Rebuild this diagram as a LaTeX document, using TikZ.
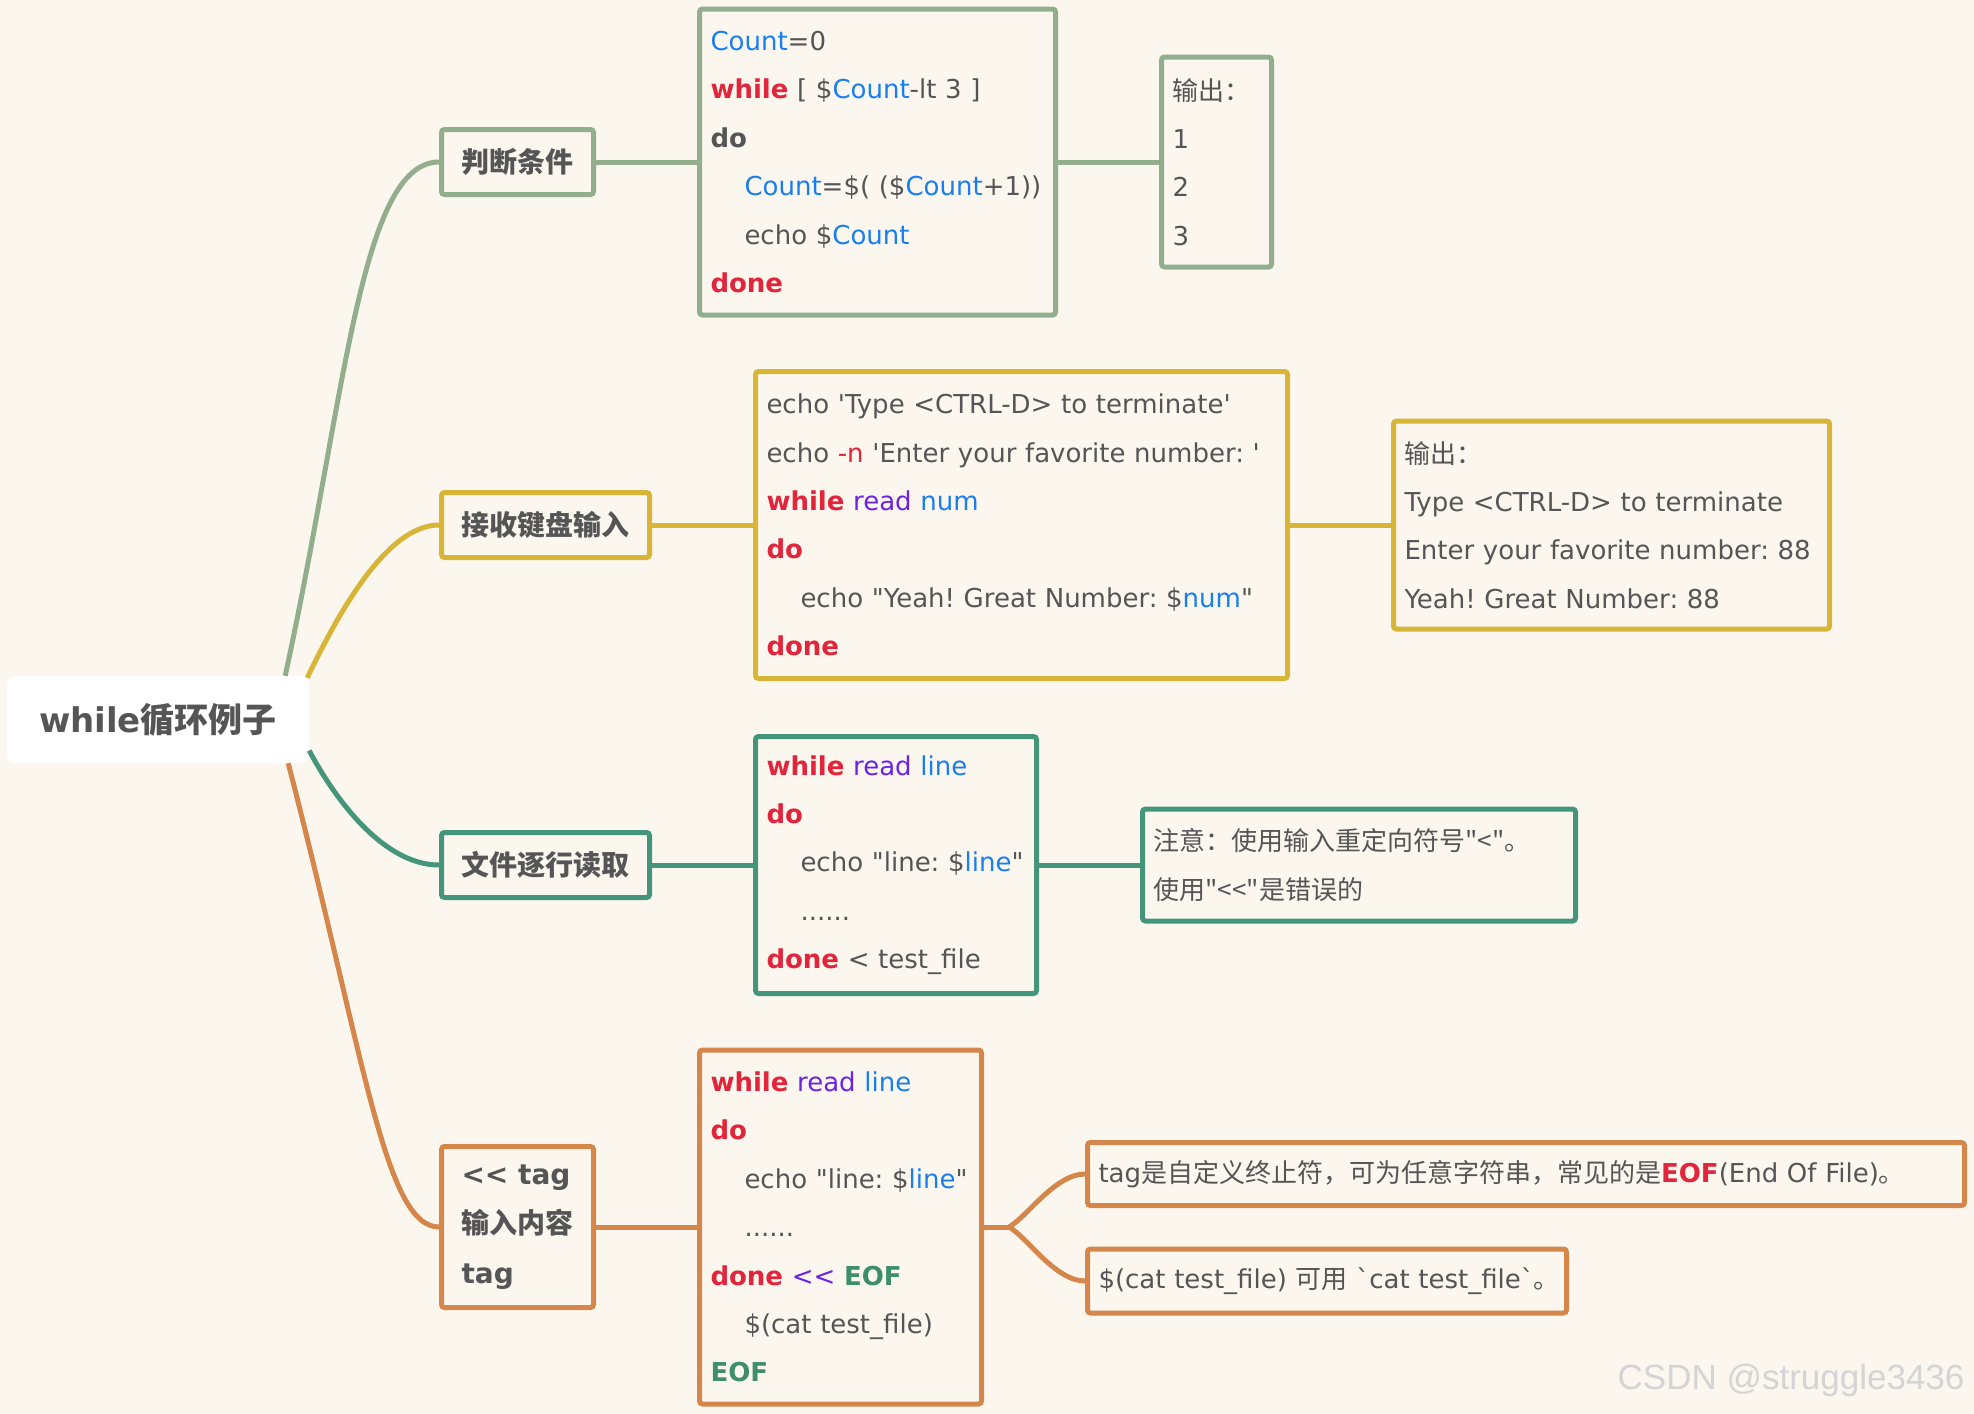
\documentclass[tikz,border=0pt]{standalone}
\usepackage{fontspec}
\newfontfamily\latfont{DejaVu Sans}
\newfontfamily\cjk{Noto Sans CJK SC}
\newfontfamily\markfont{Liberation Sans}
\usetikzlibrary{positioning,calc}

\definecolor{canvas}{RGB}{251,247,239}
\definecolor{ink}{RGB}{85,85,85}
\definecolor{brsage}{RGB}{147,174,141}
\definecolor{brgold}{RGB}{216,180,55}
\definecolor{brteal}{RGB}{69,149,122}
\definecolor{brorange}{RGB}{213,134,74}
\definecolor{kwred}{RGB}{225,38,60}
\definecolor{varblue}{RGB}{25,126,240}
\definecolor{rdpurple}{RGB}{108,34,226}
\definecolor{eofgreen}{RGB}{62,142,106}

\newcommand\codefont{\latfont\frenchspacing\fontsize{26}{48.4}\selectfont}
\newcommand\labfont{\latfont\bfseries\fontsize{28}{49.5}\selectfont}
\newcommand\kw[1]{{\bfseries\color{kwred}#1}}
\newcommand\vb[1]{{\color{varblue}#1}}
\newcommand\pu[1]{{\color{rdpurple}#1}}
\newcommand\ef[1]{{\bfseries\color{eofgreen}#1}}
\newcommand\ind{\hspace*{34pt}}

\begin{document}
\begin{tikzpicture}[
  x=1pt, y=-1pt,
  box/.style={draw, line width=5pt, rounded corners=3pt, fill=canvas, text=ink,
              align=left, inner xsep=11pt, inner ysep=4pt, font=\codefont},
  labbox/.style={box, inner xsep=20pt, minimum height=65pt, font=\labfont},
  link/.style={line width=5pt},
]
\path[use as bounding box, fill=canvas] (0,0) rectangle (1974,1414);

% root
\node[fill=white, rounded corners=8pt, minimum width=302pt, minimum height=87pt,
      text=ink, font=\latfont\bfseries\fontsize{34}{40}\selectfont]
      (root) at (158,719.5) {while{\cjk 循环例子}};

% branch 1
\node[labbox, draw=brsage, anchor=west] (lab1) at (439,162) {\cjk 判断条件};
\node[box, draw=brsage, text width=334pt, minimum height=306pt, right=101pt of lab1] (code1)
  {\vb{Count}=0\\
   \kw{while} [ \$\vb{Count}-lt 3 ]\\
   {\bfseries do}\\
   \ind\mbox{\vb{Count}=\$( (\$\vb{Count}+1))}\\
   \ind echo \$\vb{Count}\\
   \kw{done}};
\node[box, draw=brsage, text width=88pt, minimum height=210pt, right=101pt of code1] (out1)
  {{\cjk 输出：}\\1\\2\\3};

% branch 2
\node[labbox, draw=brgold, anchor=west] (lab2) at (439,525) {\cjk 接收键盘输入};
\node[box, draw=brgold, text width=510pt, minimum height=307pt, right=101pt of lab2] (code2)
  {\mbox{echo 'Type <CTRL-D> to terminate'}\\
   \mbox{echo {\color{kwred}-n} 'Enter your favorite number: '}\\
   \kw{while} \pu{read} \vb{num}\\
   \kw{do}\\
   \ind\mbox{echo "Yeah! Great Number: \$\vb{num}"}\\
   \kw{done}};
\node[box, draw=brgold, text width=414pt, minimum height=208pt, right=101pt of code2] (out2)
  {{\cjk 输出：}\\
   \mbox{Type <CTRL-D> to terminate}\\
   \mbox{Enter your favorite number: 88}\\
   \mbox{Yeah! Great Number: 88}};

% branch 3
\node[labbox, draw=brteal, anchor=west] (lab3) at (439,865) {\cjk 文件逐行读取};
\node[box, draw=brteal, text width=259pt, minimum height=257pt, right=101pt of lab3] (code3)
  {\kw{while} \pu{read} \vb{line}\\
   \kw{do}\\
   \ind\mbox{echo "line: \$\vb{line}"}\\
   \ind ......\\
   \kw{done} < test\_file};
\node[box, draw=brteal, text width=411pt, minimum height=112pt, right=101pt of code3] (note3)
  {{\cjk 注意：使用输入重定向符号"<"。}\\{\cjk 使用"<<"是错误的}};

% branch 4
\node[labbox, draw=brorange, anchor=west, minimum height=161pt] (lab4) at (439,1227)
  {<< tag\\{\cjk 输入内容}\\tag};
\node[box, draw=brorange, text width=260pt, minimum height=354pt, right=101pt of lab4] (code4)
  {\kw{while} \pu{read} \vb{line}\\
   \kw{do}\\
   \ind\mbox{echo "line: \$\vb{line}"}\\
   \ind ......\\
   \kw{done} \pu{<<} \ef{EOF}\\
   \ind\mbox{\$(cat test\_file)}\\
   \ef{EOF}};
\node[box, draw=brorange, text width=855pt, minimum height=63pt, right=101pt of code4, yshift=53pt] (note4a)
  {\mbox{tag{\cjk 是自定义终止符，可为任意字符串，常见的是}\kw{EOF}(End Of File){\cjk 。}}};
\node[box, draw=brorange, text width=457pt, minimum height=64pt, right=101pt of code4, yshift=-54pt] (note4b)
  {\mbox{\$(cat test\_file) {\cjk 可用} `cat test\_file`{\cjk 。}}};

\node[anchor=east, text=black!17, font=\markfont\fontsize{35}{40}\selectfont] (mark) at (1968,1380)
  {CSDN @struggle3436};

% connectors
\coordinate (sageout)   at ($(root.north east)+(-24,0)$);
\coordinate (goldout)   at ($(root.north east)+(-2,2)$);
\coordinate (tealout)   at ($(root.east)+(0,31)$);
\coordinate (orangeout) at ($(root.south east)+(-21,0)$);
\coordinate (fork)      at ($(code4.east)+(25,0)$);

\draw[link, brsage] (sageout) .. controls +(60,-276) and +(-79,0) .. (lab1.west);
\draw[link, brgold] (goldout) .. controls +(28,-58) and +(-54,0) .. (lab2.west);
\draw[link, brteal] (tealout) .. controls +(21,40) and +(-59,0) .. (lab3.west);
\draw[link, brorange] (orangeout) .. controls +(77,297) and +(-54,0) .. (lab4.west);

\draw[link, brsage] (lab1.east) -- (code1.west);
\draw[link, brsage] (code1.east) -- (out1.west);
\draw[link, brgold] (lab2.east) -- (code2.west);
\draw[link, brgold] (code2.east) -- (out2.west);
\draw[link, brteal] (lab3.east) -- (code3.west);
\draw[link, brteal] (code3.east) -- (note3.west);
\draw[link, brorange] (lab4.east) -- (code4.west);
\draw[link, brorange] (code4.east) -- (fork);
\draw[link, brorange] (fork) .. controls +(18,-10) and +(-30,0) .. (note4a.west);
\draw[link, brorange] (fork) .. controls +(18,10) and +(-30,0) .. (note4b.west);
\end{tikzpicture}
\end{document}
